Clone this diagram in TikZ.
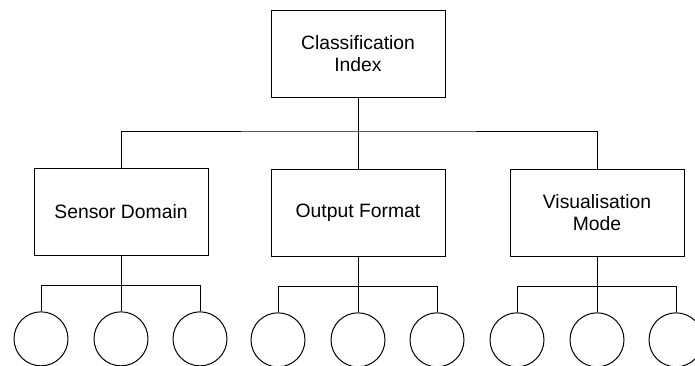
\documentclass[tikz,border=0pt]{standalone}
\usepackage{fontspec}
\setmainfont{Liberation Sans}
\usetikzlibrary{calc}

\begin{document}
\begin{tikzpicture}[x=0.75pt, y=-0.75pt,
  box/.style={draw, line width=0.75pt, minimum width=130.5pt, minimum height=65pt, inner sep=0pt, align=center, font=\fontsize{14.5}{16.5}\selectfont},
  leaf/.style={draw, circle, line width=0.75pt, minimum size=40.5pt, inner sep=0pt},
  link/.style={line width=0.75pt}]
\clip (0,0) rectangle (695,365);
% boxes
\node[box] (root) at (358,54) {Classification\\Index};
\node[box] (sensor) at (121,212) {Sensor Domain};
\node[box] (output) at (358,213) {Output Format};
\node[box] (vis) at (597,213) {Visualisation\\Mode};
% top level links
\coordinate (bus) at (358,131);
\draw[link] (root.south) -- (output.north);
\draw[link] (sensor.north) |- (bus) -| (vis.north);
% leaves under each box
\foreach \g in {sensor,output,vis} {
  \coordinate (\g-bus) at ($(\g.south)+(0,30)$);
  \foreach \k/\dx in {1/-80,2/0,3/79} {
    \node[leaf] (\g-\k) at ($(\g.south)+(\dx,83)$) {};
  }
  \draw[link] (\g.south) -- (\g-2.north);
  \draw[link] (\g-1.north) |- (\g-bus) -| (\g-3.north);
}
\end{tikzpicture}
\end{document}
